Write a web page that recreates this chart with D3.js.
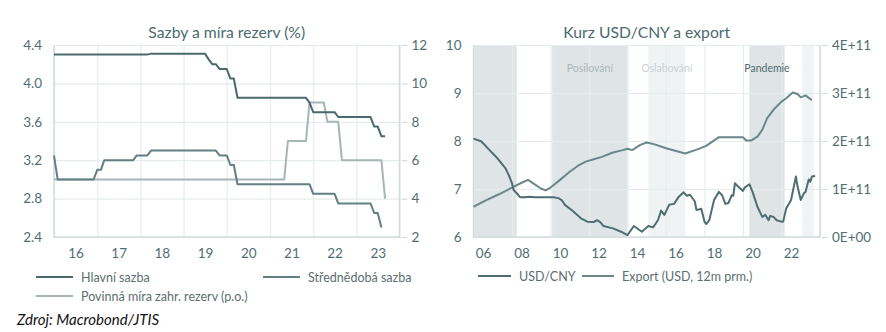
<!DOCTYPE html>
<html>
<head>
<meta charset="utf-8">
<script src="https://cdn.jsdelivr.net/npm/d3@7"></script>
<style>
  body { margin: 0; background: #fff; }
  svg { display: block; }
  text { font-family: Lato, "Open Sans", sans-serif; }
</style>
</head>
<body>
<svg id="chart" width="886" height="332"></svg>
<script>
// ---------- Left panel: policy rates and FX reserve requirement ----------
const mainRateDates = ["2016-01","2018-03","2018-04","2019-07","2019-08","2019-09","2019-10","2019-11","2020-01","2020-02","2020-03","2020-04","2021-11","2021-12","2022-01","2022-07","2022-08","2023-05","2023-06","2023-07","2023-08","2023-09"];
const mainRate      = [4.30, 4.30, 4.31, 4.31, 4.25, 4.20, 4.20, 4.15, 4.15, 4.05, 4.05, 3.85, 3.85, 3.80, 3.70, 3.70, 3.65, 3.65, 3.55, 3.55, 3.45, 3.45];

const mlfDates = ["2016-01","2016-02","2016-12","2017-01","2017-02","2017-03","2017-11","2017-12","2018-03","2018-04","2019-10","2019-11","2020-01","2020-02","2020-03","2020-04","2021-12","2022-01","2022-07","2022-08","2023-05","2023-06","2023-07","2023-08"];
const mlfRate  = [3.25, 3.00, 3.00, 3.10, 3.10, 3.20, 3.20, 3.25, 3.25, 3.30, 3.30, 3.25, 3.25, 3.15, 3.15, 2.95, 2.95, 2.85, 2.85, 2.75, 2.75, 2.65, 2.65, 2.50];

const reserveDates = ["2016-01","2021-05","2021-06","2021-11","2021-12","2022-04","2022-05","2022-08","2022-09","2023-08","2023-09"];
const reserveRatio = [5, 5, 7, 7, 9, 9, 8, 8, 6, 6, 4];

const leftTicksL = [2.4, 2.8, 3.2, 3.6, 4.0, 4.4];
const leftTicksR = [2, 4, 6, 8, 10, 12];
const leftYears  = [2016, 2017, 2018, 2019, 2020, 2021, 2022, 2023];

// ---------- Right panel: USD/CNY and exports ----------
const fxDates = ["2006-01","2006-06","2006-11","2007-04","2007-09","2007-11","2008-01","2008-02","2008-05","2008-06","2008-09","2008-12","2009-03","2009-09","2010-03","2010-06","2010-08","2010-10","2011-03","2011-08","2011-12","2012-04","2012-06","2012-08","2012-10","2013-04","2013-09","2014-01","2014-05","2014-10","2015-02","2015-05","2015-08","2015-10","2015-12","2016-03","2016-06","2016-09","2016-12","2017-02","2017-04","2017-07","2017-08","2017-11","2018-01","2018-02","2018-04","2018-07","2018-10","2018-12","2019-02","2019-04","2019-06","2019-07","2019-08","2019-10","2020-01","2020-02","2020-05","2020-07","2020-10","2021-01","2021-03","2021-05","2021-06","2021-08","2021-10","2022-01","2022-02","2022-04","2022-07","2022-10","2022-11","2023-01","2023-03","2023-04","2023-06","2023-07","2023-08","2023-10"];
const usdCny  = [8.05, 7.99, 7.81, 7.64, 7.43, 7.29, 7.12, 6.98, 6.875, 6.83, 6.83, 6.84, 6.83, 6.83, 6.83, 6.81, 6.77, 6.67, 6.54, 6.39, 6.32, 6.31, 6.35, 6.31, 6.23, 6.18, 6.11, 6.04, 6.23, 6.11, 6.23, 6.20, 6.35, 6.55, 6.46, 6.67, 6.69, 6.84, 6.93, 6.86, 6.88, 6.74, 6.56, 6.59, 6.32, 6.27, 6.35, 6.77, 6.94, 6.87, 6.69, 6.71, 6.87, 6.86, 7.12, 7.05, 6.96, 7.03, 7.10, 6.94, 6.63, 6.42, 6.46, 6.35, 6.44, 6.42, 6.35, 6.32, 6.32, 6.60, 6.77, 7.26, 7.05, 6.77, 6.91, 6.94, 7.20, 7.15, 7.26, 7.27];

const exportDates = ["2006-01","2006-09","2007-05","2008-01","2008-07","2008-11","2009-03","2009-07","2009-10","2010-01","2010-07","2011-01","2011-06","2011-11","2012-04","2012-09","2013-04","2013-10","2014-01","2014-04","2014-09","2015-01","2015-06","2016-01","2017-01","2017-09","2018-02","2018-10","2019-04","2020-01","2020-03","2020-06","2020-10","2021-01","2021-04","2021-08","2022-01","2022-04","2022-08","2022-11","2023-01","2023-04","2023-08"];
const exportUsd   = [0.63e11, 0.77e11, 0.89e11, 1.03e11, 1.13e11, 1.19e11, 1.10e11, 1.01e11, 0.97e11, 1.03e11, 1.19e11, 1.36e11, 1.48e11, 1.57e11, 1.62e11, 1.67e11, 1.76e11, 1.81e11, 1.84e11, 1.81e11, 1.92e11, 1.97e11, 1.93e11, 1.85e11, 1.74e11, 1.83e11, 1.90e11, 2.08e11, 2.08e11, 2.08e11, 2.01e11, 2.01e11, 2.09e11, 2.23e11, 2.47e11, 2.65e11, 2.82e11, 2.89e11, 3.01e11, 2.98e11, 2.91e11, 2.95e11, 2.85e11];

const periodStart = ["2006-01","2010-02","2015-02","2020-05","2023-02"];
const periodEnd   = ["2008-04","2014-01","2017-01","2022-03","2023-09"];
const periodTone  = ["dark","dark","light","dark","light"];
const periodLabel = ["","Posilování","Oslabování","Pandemie",""];
const periodLabelColor = ["","#a9b8b9","#c9d3d4","#4e6b6f",""];

const rightTicksL = [6, 7, 8, 9, 10];
const rightTicksR = [0, 1e11, 2e11, 3e11, 4e11];
const rightYears  = [2006, 2008, 2010, 2012, 2014, 2016, 2018, 2020, 2022];

// ---------- drawing ----------
const parse = d3.timeParse("%Y-%m");
const svg = d3.select("#chart");

const GRID = "#e7ecec", AXIS = "#d3dbdc", TICK_TXT = "#4f6e73";
const FONT = "Lato, 'Open Sans', sans-serif";
const TICK_SIZE = 13.5;

function panel(opts) {
  const { x0, x1, y0, y1 } = opts;
  const g = svg.append("g");
  const x = d3.scaleTime().domain(opts.xDomain).range([x0, x1]);
  const yL = d3.scaleLinear().domain(opts.yLDomain).range([y1, y0]);
  const yR = d3.scaleLinear().domain(opts.yRDomain).range([y1, y0]);

  // shaded periods
  if (opts.periods) {
    opts.periods.forEach(p => {
      g.append("rect")
        .attr("x", x(p.s)).attr("y", y0)
        .attr("width", x(p.e) - x(p.s)).attr("height", y1 - y0)
        .attr("fill", p.tone === "dark" ? "#dfe5e6" : "#eff3f3");
    });
  }

  // grid
  g.append("g").attr("transform", `translate(${x0},0)`)
    .call(d3.axisLeft(yL).tickValues(opts.yLTicks).tickSize(-(x1 - x0)).tickFormat(""))
    .call(a => a.select(".domain").remove())
    .call(a => a.selectAll("line").attr("stroke", GRID).attr("stroke-width", 1.2));
  g.append("g").attr("transform", `translate(0,${y1})`)
    .call(d3.axisBottom(x).tickValues(opts.gridDates).tickSize(-(y1 - y0)).tickFormat(""))
    .call(a => a.select(".domain").remove())
    .call(a => a.selectAll("line").attr("stroke", GRID).attr("stroke-width", 1.2));

  // period labels
  if (opts.periods) {
    opts.periods.forEach(p => {
      if (!p.label) return;
      g.append("text")
        .attr("x", (x(p.s) + x(p.e)) / 2).attr("y", 72)
        .attr("text-anchor", "middle").attr("font-size", 10.5)
        .attr("fill", p.color).text(p.label);
    });
  }

  // frame lines
  g.append("line").attr("x1", x0).attr("x2", x0).attr("y1", y0).attr("y2", y1 + 1)
    .attr("stroke", AXIS).attr("stroke-width", 1.5);
  g.append("line").attr("x1", x1).attr("x2", x1).attr("y1", y0).attr("y2", y1 + 1)
    .attr("stroke", AXIS).attr("stroke-width", 1.5);
  g.append("line").attr("x1", x0).attr("x2", x1).attr("y1", y1).attr("y2", y1)
    .attr("stroke", AXIS).attr("stroke-width", 1.5);

  // left axis labels
  g.append("g").attr("transform", `translate(${x0 - 9},0)`)
    .call(d3.axisLeft(yL).tickValues(opts.yLTicks).tickSize(0).tickFormat(opts.yLFormat))
    .call(a => a.select(".domain").remove())
    .call(a => a.selectAll("text").attr("fill", TICK_TXT).attr("font-size", TICK_SIZE)
      .attr("font-family", FONT));

  // right axis with short outward ticks
  g.append("g").attr("transform", `translate(${x1 + 2},0)`)
    .call(d3.axisRight(yR).tickValues(opts.yRTicks).tickSize(6).tickPadding(4).tickFormat(opts.yRFormat))
    .call(a => a.select(".domain").remove())
    .call(a => a.selectAll("line").attr("stroke", AXIS).attr("stroke-width", 1.2))
    .call(a => a.selectAll("text").attr("fill", TICK_TXT).attr("font-size", TICK_SIZE)
      .attr("font-family", FONT));

  // year labels centred within each year
  g.append("g").attr("transform", `translate(0,${y1 + 8})`)
    .call(d3.axisBottom(x).tickValues(opts.labelDates).tickSize(0).tickFormat(d3.timeFormat("%y")))
    .call(a => a.select(".domain").remove())
    .call(a => a.selectAll("text").attr("fill", TICK_TXT).attr("font-size", TICK_SIZE)
      .attr("font-family", FONT));

  // title
  g.append("text").attr("x", (x0 + x1) / 2).attr("y", 38)
    .attr("text-anchor", "middle").attr("font-size", 15.7).attr("fill", "#4b6a6f")
    .text(opts.title);

  return { g, x, yL, yR };
}

function series(p, dates, values, scale, color, width) {
  const pts = dates.map((d, i) => [parse(d), values[i]]);
  p.g.append("path").datum(pts)
    .attr("fill", "none").attr("stroke", color).attr("stroke-width", width)
    .attr("stroke-linejoin", "round")
    .attr("d", d3.line().x(d => p.x(d[0])).y(d => scale(d[1])));
}

// left panel
const L = panel({
  x0: 54, x1: 399.5, y0: 45, y1: 237,
  xDomain: [new Date(2016, 0, 1), new Date(2024, 0, 1)],
  yLDomain: [2.4, 4.4], yRDomain: [2, 12],
  yLTicks: leftTicksL, yRTicks: leftTicksR,
  yLFormat: d3.format(".1f"), yRFormat: d3.format("d"),
  gridDates: leftYears.map(y => new Date(y, 0, 1)).concat([new Date(2024, 0, 1)]),
  labelDates: leftYears.map(y => new Date(y, 6, 1)),
  title: "Sazby a míra rezerv (%)"
});
series(L, reserveDates, reserveRatio, L.yR, "#a6b6b7", 2);
series(L, mlfDates, mlfRate, L.yL, "#628084", 2);
series(L, mainRateDates, mainRate, L.yL, "#4b696d", 2);

// right panel
const R = panel({
  x0: 473.5, x1: 820, y0: 45, y1: 237,
  xDomain: [new Date(2006, 0, 1), new Date(2024, 0, 1)],
  yLDomain: [6, 10], yRDomain: [0, 4e11],
  yLTicks: rightTicksL, yRTicks: rightTicksR,
  yLFormat: d3.format("d"),
  yRFormat: v => (v / 1e11).toFixed(0) + "E" + (v === 0 ? "+00" : "+11"),
  gridDates: rightYears.map(y => new Date(y, 0, 1)).concat([new Date(2024, 0, 1)]),
  labelDates: rightYears.map(y => new Date(y, 6, 1)),
  title: "Kurz USD/CNY a export",
  periods: periodStart.map((s, i) => ({
    s: parse(s), e: parse(periodEnd[i]), tone: periodTone[i],
    label: periodLabel[i], color: periodLabelColor[i]
  }))
});
series(R, exportDates, exportUsd, R.yR, "#6b878a", 2);
series(R, fxDates, usdCny, R.yL, "#4f6e72", 2);

// legends
function legendItem(x, y, len, color, label) {
  svg.append("line").attr("x1", x).attr("x2", x + len).attr("y1", y).attr("y2", y)
    .attr("stroke", color).attr("stroke-width", 2);
  svg.append("text").attr("x", x + len + 8).attr("y", y + 4.5)
    .attr("font-size", 12.5).attr("fill", "#5c6e71").text(label);
}
legendItem(36, 277, 37, "#4b696d", "Hlavní sazba");
legendItem(263, 277, 37, "#628084", "Střednědobá sazba");
legendItem(36, 296, 37, "#a6b6b7", "Povinná míra zahr. rezerv (p.o.)");
legendItem(478, 276, 33, "#4f6e72", "USD/CNY");
legendItem(582, 276, 32, "#6b878a", "Export (USD, 12m prm.)");

// source note
svg.append("text").attr("x", 17).attr("y", 325)
  .attr("font-size", 15).attr("font-style", "italic").attr("fill", "#111")
  .text("Zdroj: Macrobond/JTIS");
</script>
</body>
</html>
